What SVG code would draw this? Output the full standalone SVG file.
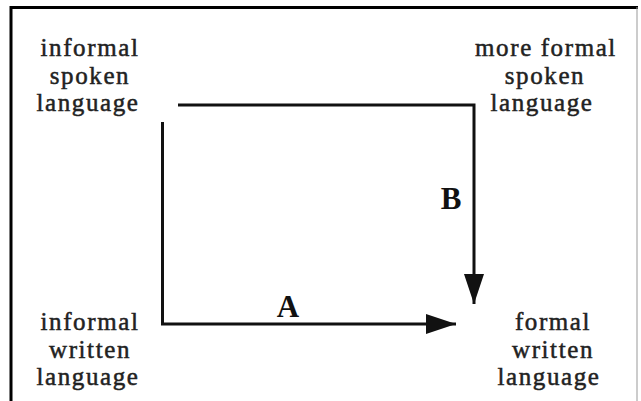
<svg xmlns="http://www.w3.org/2000/svg" width="641" height="401" viewBox="0 0 641 401">
<style>
.t{font-family:"Liberation Serif","Times New Roman",serif;font-size:25px;fill:#222;stroke:#222;stroke-width:0.5;text-anchor:middle;letter-spacing:1.6px}
.l{font-family:"Liberation Serif","Times New Roman",serif;font-size:31px;fill:#111;text-anchor:middle;font-weight:bold}
.c{stroke:#111;stroke-width:3;fill:none}
</style>
<defs>
<marker id="ah" viewBox="0 0 30 20" refX="30" refY="10" markerWidth="30" markerHeight="20" markerUnits="userSpaceOnUse" orient="auto">
<path d="M0,0 L30,10 L0,20 Z" fill="#111"/>
</marker>
</defs>
<rect width="641" height="401" fill="#fff"/>
<g id="frame">
<line x1="10" y1="7.5" x2="638" y2="7.5" stroke="#000" stroke-width="3"/>
<line x1="11" y1="6" x2="11" y2="401" stroke="#000" stroke-width="3"/>
<line x1="637" y1="7" x2="637" y2="401" stroke="#999" stroke-width="1"/>
</g>
<g id="n1"><text class="t" x="90" y="56">informal</text><text class="t" x="90" y="84">spoken</text><text class="t" x="88" y="111">language</text></g>
<g id="n2"><text class="t" x="546" y="56">more formal</text><text class="t" x="545" y="84">spoken</text><text class="t" x="542" y="111">language</text></g>
<g id="n3"><text class="t" x="90" y="330">informal</text><text class="t" x="90" y="358">written</text><text class="t" x="88" y="385">language</text></g>
<g id="n4"><text class="t" x="553" y="330">formal</text><text class="t" x="553" y="358">written</text><text class="t" x="549" y="385">language</text></g>
<g id="connectors">
<path class="c" d="M178,105 L474,105 L474,304" marker-end="url(#ah)"/>
<path class="c" d="M162.5,122 L162.5,324 L456,324" marker-end="url(#ah)"/>
<text class="l" x="451" y="209">B</text>
<text class="l" x="288" y="317">A</text>
</g>
</svg>
